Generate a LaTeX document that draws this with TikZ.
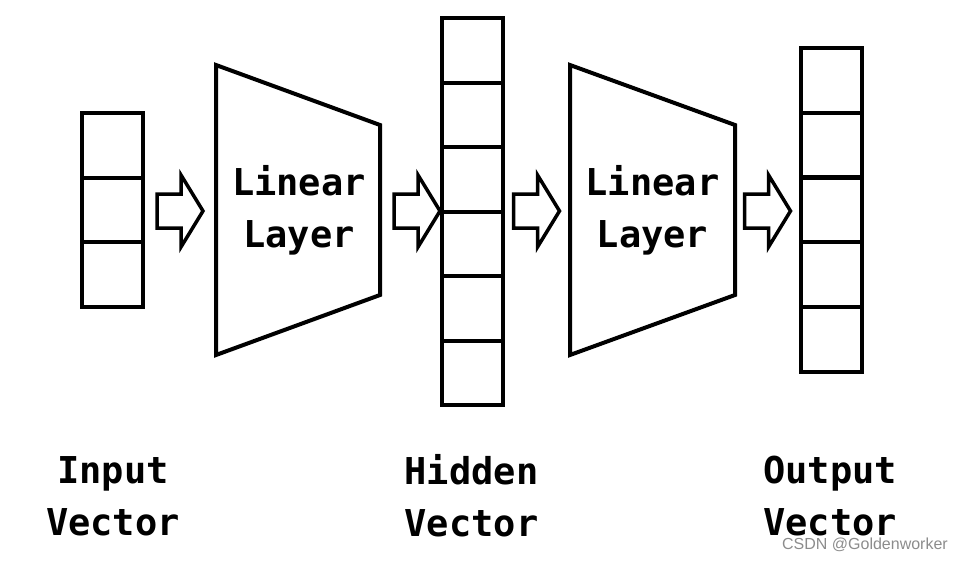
\documentclass[tikz,border=0pt]{standalone}
\usepackage{fontspec}
\newfontfamily\mono{DejaVu Sans Mono}
\newfontfamily\wmfont{Liberation Sans}
\begin{document}
\begin{tikzpicture}[x=1pt,y=-1pt,
  cell/.style={draw=black,line width=4pt,minimum width=61pt,minimum height=64.5pt,inner sep=0pt,outer sep=0pt},
  layer/.style={draw=black,line width=4pt,line join=miter},
  arrowline/.style={draw=black,line width=3.5pt,line join=miter,fill=white},
  lbl/.style={font=\mono\bfseries\fontsize{37}{52}\selectfont,align=center,inner sep=0pt},
  barrow/.pic={\path[arrowline] (-23,-17) -- (1,-17) -- (1,-36) -- (23,0) -- (1,36) -- (1,17) -- (-23,17) -- cycle;}
]
\useasboundingbox (0,0) rectangle (967,560);
% input vector (3 cells)
\foreach \i in {0,1,2} {
  \node[cell] (in\i) at (112.5, {113+32.25+64.5*\i}) {};
}
% hidden vector (6 cells)
\foreach \i in {0,...,5} {
  \node[cell] (hid\i) at (472, {18+32.25+64.5*\i}) {};
}
% output vector (5 cells)
\foreach \i in {0,...,4} {
  \node[cell] (out\i) at (831, {48+32.25+64.8*\i}) {};
}
% linear layers
\draw[layer] (216,65) -- (380,125) -- (380,295) -- (216,355) -- cycle;
\node[lbl] (lin1) at (299,210) {Linear\\Layer};
\draw[layer] (570,65) -- (735,125) -- (735,295) -- (570,355) -- cycle;
\node[lbl] (lin2) at (652.5,210) {Linear\\Layer};
% block arrows
\pic (a1) at (180,211) {barrow};
\pic (a2) at (417,211) {barrow};
\pic (a3) at (536.5,211) {barrow};
\pic (a4) at (767.5,211) {barrow};
% captions
\node[lbl] (capin) at (113,496) {Input\\Vector};
\node[lbl] (caphid) at (471.5,496) {Hidden\\Vector};
\node[lbl] (capout) at (830,496) {Output\\Vector};
% watermark
\node[font=\wmfont\fontsize{16}{16}\selectfont,text=black!45,inner sep=0pt] (wm) at (865,545) {CSDN @Goldenworker};
\end{tikzpicture}
\end{document}
